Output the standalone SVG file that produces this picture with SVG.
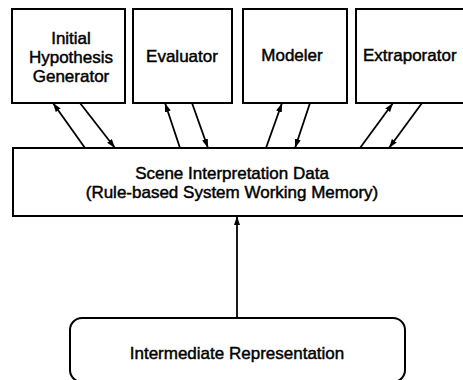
<svg xmlns="http://www.w3.org/2000/svg" width="463" height="380" viewBox="0 0 463 380">
  <style>
    .box { fill: #fff; stroke: #000; stroke-width: 2; }
    .lbl { font-family: "Liberation Sans", Arial, Helvetica, sans-serif; font-size: 17px; fill: #000; stroke: #000; stroke-width: 0.45; text-anchor: middle; }
    .conn { stroke: #000; stroke-width: 1.8; fill: none; marker-end: url(#ah); }
  </style>
  <defs>
    <marker id="ah" markerUnits="userSpaceOnUse" markerWidth="9" markerHeight="7" refX="9" refY="3.5" orient="auto">
      <path d="M0,0.5 L9,3.5 L0,6.5 z" fill="#000"/>
    </marker>
  </defs>
  <rect width="463" height="380" fill="#fff"/>

  <g id="initial-hypothesis-generator">
    <rect class="box" x="12" y="9" width="113" height="94"/>
    <text class="lbl" x="71" y="44">Initial</text>
    <text class="lbl" x="71" y="63">Hypothesis</text>
    <text class="lbl" x="71" y="82">Generator</text>
  </g>
  <g id="evaluator">
    <rect class="box" x="133" y="9" width="99" height="94"/>
    <text class="lbl" x="182" y="62">Evaluator</text>
  </g>
  <g id="modeler">
    <rect class="box" x="243" y="9" width="104" height="94"/>
    <text class="lbl" x="292" y="61">Modeler</text>
  </g>
  <g id="extraporator">
    <rect class="box" x="356" y="9" width="120" height="94"/>
    <text class="lbl" x="363" y="61" style="text-anchor:start">Extraporator</text>
  </g>
  <g id="scene-interpretation-data">
    <rect class="box" x="13" y="148" width="465" height="68"/>
    <text class="lbl" x="232" y="179">Scene Interpretation Data</text>
    <text class="lbl" x="232" y="198">(Rule-based System Working Memory)</text>
  </g>
  <g id="intermediate-representation">
    <rect class="box" x="70" y="318" width="335" height="64" rx="12" ry="12"/>
    <text class="lbl" x="237" y="359">Intermediate Representation</text>
  </g>

  <g id="connectors">
    <line class="conn" x1="85" y1="148" x2="53" y2="103"/>
    <line class="conn" x1="80" y1="103" x2="115" y2="148"/>
    <line class="conn" x1="180" y1="148" x2="165" y2="103"/>
    <line class="conn" x1="192" y1="103" x2="208" y2="148"/>
    <line class="conn" x1="266" y1="148" x2="282" y2="103"/>
    <line class="conn" x1="310" y1="103" x2="295" y2="148"/>
    <line class="conn" x1="360" y1="148" x2="393" y2="103"/>
    <line class="conn" x1="422" y1="103" x2="389" y2="148"/>
    <line class="conn" x1="237" y1="318" x2="237" y2="216"/>
  </g>
</svg>
